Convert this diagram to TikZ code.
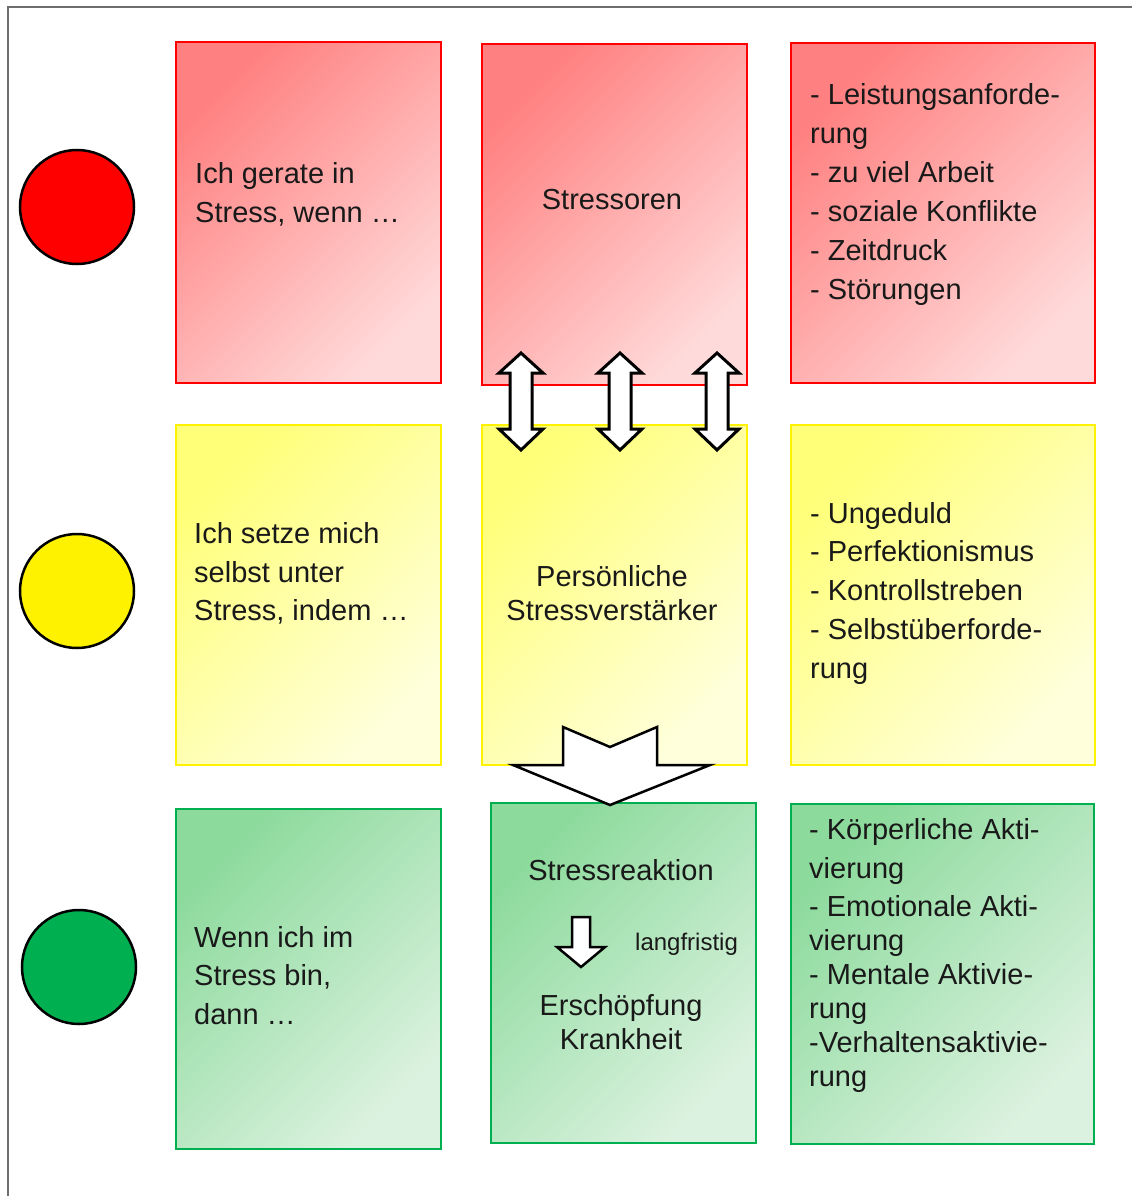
\documentclass[tikz,border=0pt]{standalone}
\usepackage{fontspec}
\setmainfont{Liberation Sans}
\definecolor{rtl}{HTML}{FF8080}
\definecolor{rbr}{HTML}{FFDADA}
\definecolor{ytl}{HTML}{FFFF78}
\definecolor{ybr}{HTML}{FFFFDC}
\definecolor{gtl}{HTML}{8CDA9C}
\definecolor{gbr}{HTML}{DCF2E0}
\definecolor{gline}{HTML}{00B050}
\definecolor{frame}{HTML}{6E6E6E}
\definecolor{tgreen}{HTML}{00B050}
\tikzset{
  box/.style={rectangle, inner sep=0pt, outer sep=0pt, anchor=north west},
  redbox/.style={box, draw=red, line width=2.5pt, top color=rtl, bottom color=rbr, shading angle=45},
  yelbox/.style={box, draw=yellow, line width=1.5pt, top color=ytl, bottom color=ybr, shading angle=45},
  grnbox/.style={box, draw=gline, line width=1.2pt, top color=gtl, bottom color=gbr, shading angle=45},
  lamp/.style={circle, draw=black, line width=2.5pt, minimum size=114pt, inner sep=0pt},
  txt/.style={inner sep=0pt, font=\fontsize{29}{39}\selectfont, text=black!90},
  lw/.style={txt, anchor=base west},
  lc/.style={txt, anchor=base},
  small/.style={inner sep=0pt, font=\fontsize{24}{30}\selectfont, text=black!90, anchor=base west},
  blockarrow/.style={draw=black, fill=white, line width=3pt, line join=miter},
}
\begin{document}
\begin{tikzpicture}[x=1pt,y=-1pt]
\useasboundingbox (0,0) rectangle (1132,1196);
% frame
\draw[frame, line width=2pt] (8,1196) -- (8,7) -- (1132,7);

% lamps
\node[lamp, fill=red] (lred) at (77,207) {};
\node[lamp, fill=yellow] (lyel) at (77,591) {};
\node[lamp, fill=tgreen] (lgrn) at (79,967) {};

% boxes
\node[redbox, minimum width=265pt, minimum height=341pt] (R1) at (176,42) {};
\node[redbox, minimum width=265pt, minimum height=341pt] (R2) at (482,44) {};
\node[redbox, minimum width=304pt, minimum height=340pt] (R3) at (791,43) {};
\node[yelbox, minimum width=265pt, minimum height=340pt] (Y1) at (176,425) {};
\node[yelbox, minimum width=265pt, minimum height=340pt] (Y2) at (482,425) {};
\node[yelbox, minimum width=304pt, minimum height=340pt] (Y3) at (791,425) {};
\node[grnbox, minimum width=265pt, minimum height=340pt] (G1) at (176,809) {};
\node[grnbox, minimum width=265pt, minimum height=340pt] (G2) at (491,803) {};
\node[grnbox, minimum width=303pt, minimum height=340pt] (G3) at (791,804) {};

% red texts
\node[lw] (r1a) at (195,183) {Ich gerate in};
\node[lw] (r1b) at (195,222) {Stress, wenn …};
\node[lc] (r2a) at (612,209) {Stressoren};
\node[lw] (r3a) at (810,105) {- Leistungsanforde-};
\node[lw] (r3b) at (810,143) {rung};
\node[lw] (r3c) at (810,182) {- zu viel Arbeit};
\node[lw] (r3d) at (810,221) {- soziale Konflikte};
\node[lw] (r3e) at (810,260) {- Zeitdruck};
\node[lw] (r3f) at (810,299) {- Störungen};

% yellow texts
\node[lw] (y1a) at (194,543) {Ich setze mich};
\node[lw] (y1b) at (194,582) {selbst unter};
\node[lw] (y1c) at (194,620) {Stress, indem …};
\node[lc] (y2a) at (612,586) {Persönliche};
\node[lc] (y2b) at (612,620) {Stressverstärker};
\node[lw] (y3a) at (810,523) {- Ungeduld};
\node[lw] (y3b) at (810,561) {- Perfektionismus};
\node[lw] (y3c) at (810,600) {- Kontrollstreben};
\node[lw] (y3d) at (810,639) {- Selbstüberforde-};
\node[lw] (y3e) at (810,678) {rung};

% green texts
\node[lw] (g1a) at (194,947) {Wenn ich im};
\node[lw] (g1b) at (194,985) {Stress bin,};
\node[lw] (g1c) at (194,1024) {dann …};
\node[lc] (g2a) at (621,880) {Stressreaktion};
\node[small] (g2l) at (635,950) {langfristig};
\node[lc] (g2b) at (621,1015) {Erschöpfung};
\node[lc] (g2c) at (621,1049) {Krankheit};
\node[lw] (g3a) at (809,839) {- Körperliche Akti-};
\node[lw] (g3b) at (809,878) {vierung};
\node[lw] (g3c) at (809,916) {- Emotionale Akti-};
\node[lw] (g3d) at (809,950) {vierung};
\node[lw] (g3e) at (809,984) {- Mentale Aktivie-};
\node[lw] (g3f) at (809,1018) {rung};
\node[lw] (g3g) at (809,1052) {-Verhaltensaktivie-};
\node[lw] (g3h) at (809,1086) {rung};

% double arrows between Stressoren and Stressverstaerker
\foreach \c in {521,620,717}{
  \draw[blockarrow] (\c,353) -- (\c+22,373) -- (\c+11,373) -- (\c+11,429) -- (\c+22,429)
     -- (\c,450) -- (\c-22,429) -- (\c-11,429) -- (\c-11,373) -- (\c-22,373) -- cycle;
}

% big notched arrow down
\draw[blockarrow, line width=2.5pt] (563,727) -- (610,747) -- (657,727) -- (657,765) -- (710,765)
   -- (610,805) -- (513,765) -- (563,765) -- cycle;

% small arrow
\draw[blockarrow, line width=2.5pt] (572,917) -- (590,917) -- (590,947) -- (605,947) -- (581,967)
   -- (557,947) -- (572,947) -- cycle;
\end{tikzpicture}
\end{document}
